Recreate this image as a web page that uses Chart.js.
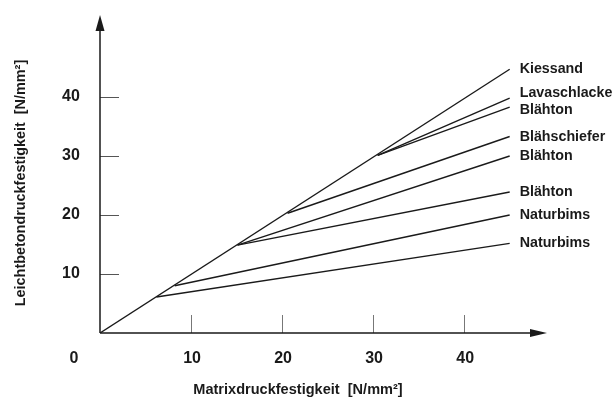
<!DOCTYPE html>
<html>
<head>
<meta charset="utf-8">
<script src="https://cdn.jsdelivr.net/npm/chart.js@4"></script>
<style>
  html, body { margin: 0; padding: 0; background: #fff; }
  #wrap { width: 615px; height: 398px; position: relative; }
</style>
</head>
<body>
<div id="wrap"><canvas id="festigkeit"></canvas></div>
<script>
// Leichtbeton: Festigkeit in Abhängigkeit der Matrixdruckfestigkeit, je Zuschlag
const seriesNames = ["Kiessand", "Lavaschlacke", "Blähton", "Blähschiefer", "Blähton", "Blähton", "Naturbims", "Naturbims"];
const startX = [0, 30.5, 30.5, 20.6, 15.1, 15.1, 8.2, 6.2];
const startY = [0, 30.1, 30.1, 20.3, 14.9, 14.9, 8.0, 6.1];
const endX   = [45, 45, 45, 45, 45, 45, 45, 45];
const endY   = [44.7, 39.8, 38.3, 33.3, 30.0, 23.9, 20.0, 15.2];

const xTicks = [10, 20, 30, 40];
const yTicks = [10, 20, 30, 40];
const xTitle = "Matrixdruckfestigkeit  [N/mm²]";
const yTitle = "Leichtbetondruckfestigkeit  [N/mm²]";

// kleine Verschiebung der Beschriftungen, wo sie sich sonst überlappen
const labelNudge = [0, -5, 3, 0, 0, 0, 0, 0];

const INK = "#1a1a1a";
const FONT = "'Liberation Sans', Arial, sans-serif";

const datasets = seriesNames.map((name, i) => ({
  label: name,
  data: [{ x: startX[i], y: startY[i] }, { x: endX[i], y: endY[i] }],
  showLine: true,
  borderColor: INK,
  borderWidth: 1.4,
  pointRadius: 0,
  fill: false,
}));

// Text etwas schmaler laufen lassen (Helvetica-artige Schrift)
function narrowText(ctx, text, x, y, sx, rot) {
  ctx.save();
  ctx.translate(x, y);
  if (rot) ctx.rotate(rot);
  ctx.scale(sx, 1);
  ctx.fillText(text, 0, 0);
  ctx.restore();
}

// Achsen mit Pfeilen, Teilstriche und alle Beschriftungen
const axesPlugin = {
  id: "axesArrows",
  afterDatasetsDraw(chart) {
    const { ctx, scales: { x, y } } = chart;
    const x0 = x.getPixelForValue(0);
    const y0 = y.getPixelForValue(0);
    const xEnd = x.getPixelForValue(x.max);
    const yEnd = y.getPixelForValue(y.max);
    ctx.save();

    // Teilstriche
    ctx.lineWidth = 1;
    ctx.strokeStyle = "#777";
    xTicks.forEach(v => {
      const px = Math.round(x.getPixelForValue(v)) + 0.5;
      ctx.beginPath(); ctx.moveTo(px, y0); ctx.lineTo(px, y0 - 18); ctx.stroke();
    });
    ctx.strokeStyle = "#555";
    yTicks.forEach(v => {
      const py = Math.round(y.getPixelForValue(v)) + 0.5;
      ctx.beginPath(); ctx.moveTo(x0, py); ctx.lineTo(x0 + 19, py); ctx.stroke();
    });

    // Achsenlinien
    ctx.strokeStyle = INK;
    ctx.lineWidth = 1.5;
    ctx.beginPath();
    ctx.moveTo(x0, y0); ctx.lineTo(xEnd - 10, y0);
    ctx.moveTo(x0, y0); ctx.lineTo(x0, yEnd + 10);
    ctx.stroke();

    // Pfeilspitzen
    ctx.fillStyle = INK;
    ctx.beginPath();
    ctx.moveTo(xEnd, y0); ctx.lineTo(xEnd - 17, y0 - 4); ctx.lineTo(xEnd - 17, y0 + 4);
    ctx.closePath(); ctx.fill();
    ctx.beginPath();
    ctx.moveTo(x0, yEnd); ctx.lineTo(x0 - 4.5, yEnd + 16); ctx.lineTo(x0 + 4.5, yEnd + 16);
    ctx.closePath(); ctx.fill();

    // Zahlen an den Achsen
    ctx.fillStyle = INK;
    ctx.font = "bold 16px " + FONT;
    ctx.textAlign = "center";
    ctx.textBaseline = "middle";
    xTicks.forEach(v => ctx.fillText(String(v), x.getPixelForValue(v) + 1, y0 + 26));
    ctx.fillText("0", x0 - 26, y0 + 26);
    yTicks.forEach(v => ctx.fillText(String(v), x0 - 29, y.getPixelForValue(v)));

    // Achsentitel
    ctx.font = "bold 15px " + FONT;
    narrowText(ctx, xTitle, 298, y0 + 57, 0.97);
    narrowText(ctx, yTitle, 21, 183, 0.96, -Math.PI / 2);

    // Zuschlagsbezeichnungen am Linienende
    ctx.textAlign = "left";
    seriesNames.forEach((name, i) => {
      const px = x.getPixelForValue(endX[i]) + 10;
      const py = y.getPixelForValue(endY[i]) + labelNudge[i];
      narrowText(ctx, name, px, py, 0.95);
    });
    ctx.restore();
  }
};

new Chart(document.getElementById("festigkeit"), {
  type: "scatter",
  data: { datasets },
  options: {
    responsive: true,
    maintainAspectRatio: false,
    animation: false,
    layout: { padding: { left: 100, right: 68, top: 15, bottom: 65 } },
    plugins: { legend: { display: false }, tooltip: { enabled: false } },
    scales: {
      x: { type: "linear", min: 0, max: 49.1, display: false },
      y: { type: "linear", min: 0, max: 53.9, display: false },
    },
  },
  plugins: [axesPlugin],
});
</script>
</body>
</html>
